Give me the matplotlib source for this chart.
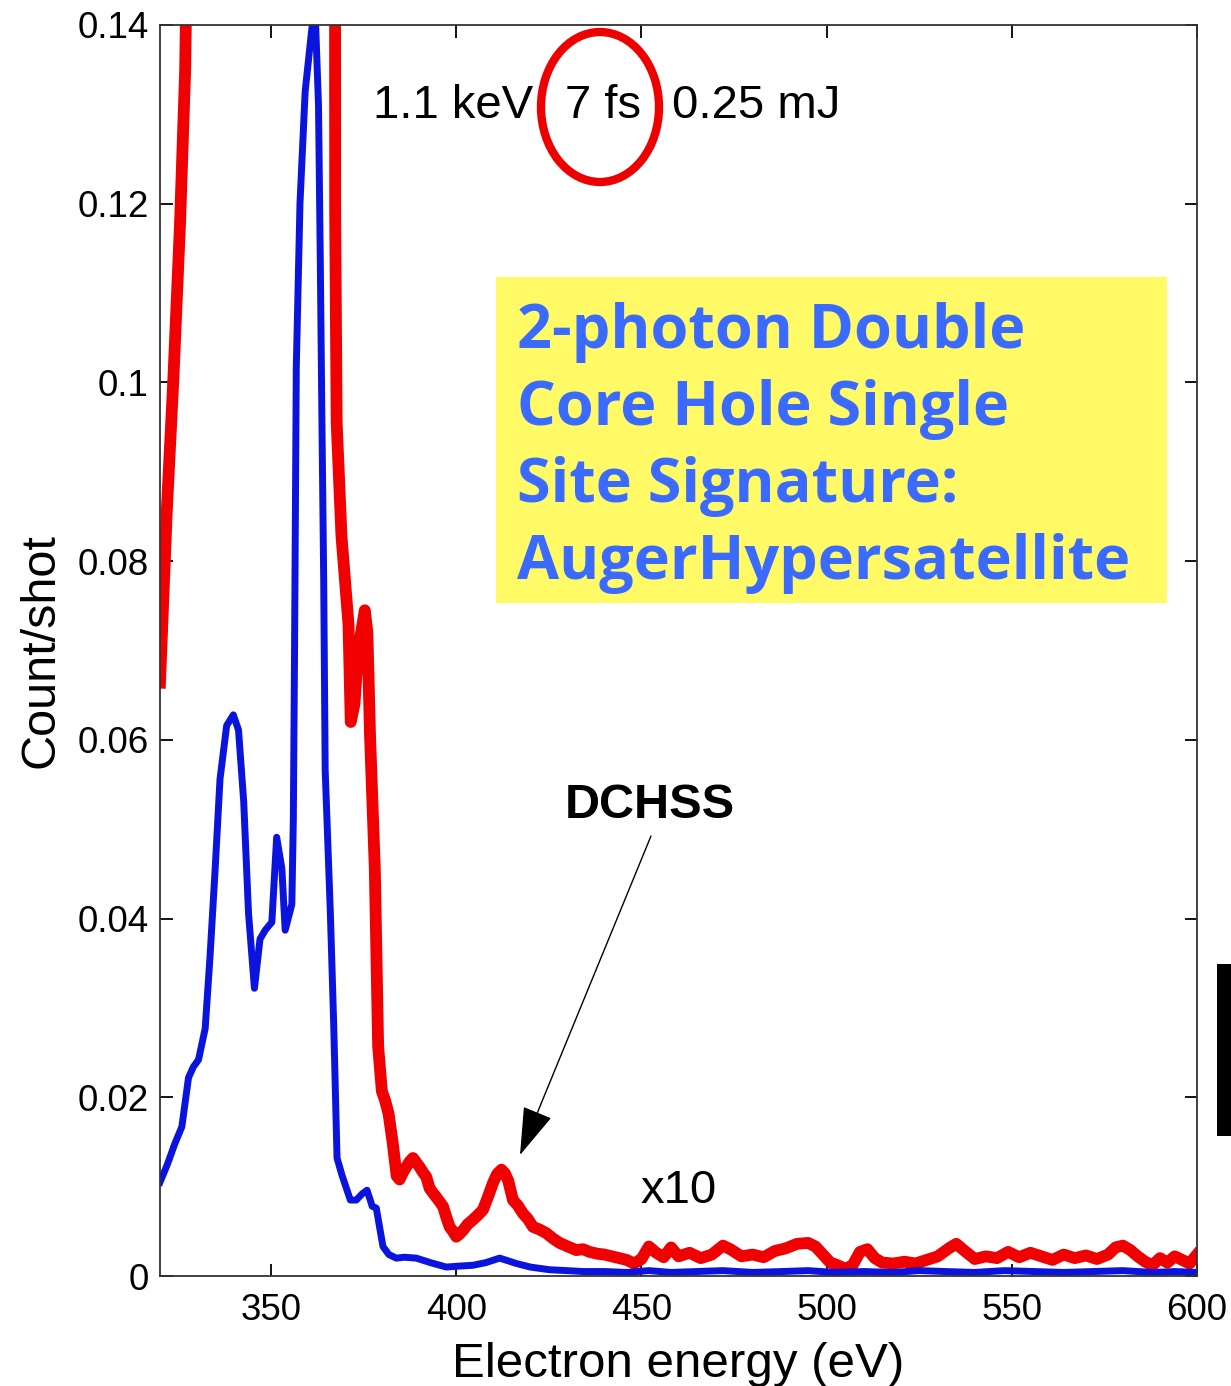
import matplotlib
matplotlib.use("Agg")
import matplotlib.pyplot as plt
from matplotlib.patches import Ellipse, Rectangle

plt.rcParams['font.family'] = ['Liberation Sans', 'DejaVu Sans']

# Auger spectrum (blue) and the same spectrum scaled x10 (red)
blue_energy = [320, 322, 324, 325.9, 327.7, 329, 330.4, 332.2, 333.5, 334.9, 336.2, 338,
               339.8, 341.2, 342.6, 343.9, 345.5, 347, 348.4, 350.2, 351.5, 352.9, 353.8,
               355.6, 356, 356.3, 356.8, 357.8, 359.2, 361, 361.9, 362.8, 363.3, 363.7,
               364.2, 364.6, 366, 366.9, 367.8, 369.2, 371.4, 373, 374.6, 375.9, 377.3,
               378.4, 380.2, 381.8, 383.8, 386, 389.2, 393, 397.3, 400.5, 404.5, 408,
               411.7, 414, 416.2, 420, 425.2, 430, 434.2, 440, 446, 452, 458, 465, 472,
               480, 488, 495, 502, 510, 518, 525, 532, 540, 548, 556, 564, 572, 580,
               588, 594, 600]
blue_count = [0.0105, 0.0125, 0.0148, 0.0167, 0.0222, 0.0234, 0.0242, 0.0277, 0.0357,
              0.0456, 0.0556, 0.0616, 0.0628, 0.0611, 0.0531, 0.0406, 0.0322, 0.0377,
              0.0387, 0.0396, 0.0491, 0.0456, 0.0387, 0.0416, 0.0511, 0.068, 0.1017,
              0.1201, 0.1326, 0.1396, 0.1415, 0.131, 0.1129, 0.0965, 0.0779, 0.0566,
              0.0406, 0.0282, 0.0132, 0.0112, 0.0085, 0.0085, 0.0092, 0.0096, 0.0078,
              0.0076, 0.0033, 0.0024, 0.002, 0.0021, 0.002, 0.0015, 0.001, 0.0011,
              0.0012, 0.0015, 0.002, 0.0017, 0.0014, 0.001, 0.0007, 0.0006, 0.0005,
              0.0005, 0.0004, 0.0006, 0.0004, 0.0005, 0.0006, 0.0004, 0.0005, 0.0006,
              0.0004, 0.0005, 0.0004, 0.0006, 0.0005, 0.0004, 0.0006, 0.0005, 0.0004,
              0.0005, 0.0006, 0.0004, 0.0005, 0.0004]

red_energy = [320, 321.8, 323.6, 325.4, 326.8, 329, 335, 345, 355, 362, 366.6, 367.3,
              367.7, 369, 370.9, 371.5, 372.5, 373.5, 375.3, 376, 376.7, 378, 378.9,
              379.9, 380.8, 381.7, 382.8, 383.9, 384.7, 385.6, 386.5, 387.4, 388.3,
              389.2, 390.1, 391, 391.9, 392.8, 393.7, 395, 396.4, 397.3, 398.2, 399.1,
              400, 400.9, 401.8, 403.1, 404.5, 405.8, 407.2, 408.5, 409.9, 411, 412.2,
              413.1, 414, 415.3, 416.6, 418, 419.3, 420.7, 422.5, 424.3, 426.1, 427.9,
              430.1, 432.4, 434.2, 436, 438, 440, 443, 446, 448, 450, 452, 454, 456,
              458, 460, 463, 466, 469, 472, 474, 477, 480, 483, 486, 489, 492, 495, 497,
              499, 501, 503, 505, 507, 509, 511, 513, 515, 518, 521, 524, 527, 530, 533,
              535, 537, 540, 543, 546, 549, 552, 555, 558, 561, 564, 567, 570, 573, 576,
              578, 580, 582, 584, 586, 588, 590, 592, 594, 596, 598, 600]
red_count = [0.0664, 0.0853, 0.1003, 0.1177, 0.135, 0.2, 0.5, 0.4, 0.7, 1.4, 0.6, 0.119,
             0.0955, 0.0828, 0.0729, 0.062, 0.064, 0.07, 0.0745, 0.072, 0.0606, 0.0456,
             0.0257, 0.0207, 0.0196, 0.0182, 0.0150, 0.0112, 0.0108, 0.0116, 0.0122,
             0.0128, 0.0132, 0.0127, 0.0122, 0.0116, 0.0111, 0.0098, 0.0093, 0.0086,
             0.0078, 0.0066, 0.0055, 0.0050, 0.0044, 0.0047, 0.0051, 0.0058, 0.0063,
             0.0068, 0.0074, 0.0088, 0.0104, 0.0114, 0.0119, 0.0115, 0.0107, 0.0085,
             0.0079, 0.007, 0.0064, 0.0055, 0.0052, 0.0048, 0.0042, 0.0037, 0.0033,
             0.0029, 0.0030, 0.0027, 0.0025, 0.0024, 0.0021, 0.0018, 0.0014, 0.0019,
             0.0033, 0.0026, 0.0021, 0.0032, 0.0022, 0.0026, 0.0020, 0.0024, 0.0034,
             0.0030, 0.0022, 0.0024, 0.0021, 0.0028, 0.0031, 0.0036, 0.0037, 0.0033,
             0.0024, 0.0015, 0.0012, 0.0008, 0.0012, 0.0027, 0.0030, 0.0020, 0.0015,
             0.0014, 0.0016, 0.0014, 0.0018, 0.0022, 0.0031, 0.0036, 0.0029, 0.0019,
             0.0022, 0.0020, 0.0027, 0.0021, 0.0026, 0.0022, 0.0018, 0.0024, 0.0020,
             0.0023, 0.0019, 0.0024, 0.0032, 0.0034, 0.0029, 0.0022, 0.0016, 0.0012,
             0.0020, 0.0015, 0.0022, 0.0018, 0.0014, 0.0024]

x_ticks = [350, 400, 450, 500, 550, 600]
y_ticks = [0, 0.02, 0.04, 0.06, 0.08, 0.1, 0.12, 0.14]
y_tick_labels = ['0', '0.02', '0.04', '0.06', '0.08', '0.1', '0.12', '0.14']

box_lines = ['2-photon Double', 'Core Hole Single', 'Site Signature:', 'AugerHypersatellite']

W, H = 1231, 1386
fig = plt.figure(figsize=(W / 100, H / 100), dpi=100)
ax = fig.add_axes([160 / W, 1 - 1276 / H, (1197 - 160) / W, (1276 - 25) / H])

ax.plot(red_energy, red_count, color='#f00000', lw=8.5, solid_joinstyle='round')
ax.plot(blue_energy, blue_count, color='#0a14dc', lw=5, solid_joinstyle='round')

ax.set_xlim(320, 600)
ax.set_ylim(0, 0.14)
ax.set_xticks(x_ticks)
ax.set_yticks(y_ticks)
ax.set_yticklabels(y_tick_labels)
ax.tick_params(direction='in', length=9, width=1.3, labelsize=26.5,
               top=True, right=True)
ax.tick_params(axis='x', pad=12)
ax.tick_params(axis='y', pad=8)
for s in ax.spines.values():
    s.set_linewidth(1.3)
    s.set_color('#333333')

ax.set_xlabel('Electron energy (eV)', fontsize=35.5, labelpad=10)
ax.set_ylabel('Count/shot', fontsize=35, labelpad=10)


def fp(x, y):
    # image-style pixel position -> figure pixels (origin bottom-left)
    return (x, H - y)


# beam parameters
fig.text(*fp(373, 118), '1.1 keV', fontsize=34, va='baseline', transform=None)
fig.text(*fp(565, 118), '7 fs', fontsize=34, va='baseline', transform=None)
fig.text(*fp(672, 118), '0.25 mJ', fontsize=34, va='baseline', transform=None)
fig.add_artist(Ellipse(fp(600, 107), 118, 150, fill=False, edgecolor='#ee0000',
                       lw=6, transform=None))

# highlighted note
fig.add_artist(Rectangle(fp(496, 603), 1167 - 496, 603 - 277, facecolor='#fffa66',
                         edgecolor='none', transform=None))
for i, line in enumerate(box_lines):
    fig.text(*fp(517, 348 + i * 77), line, fontsize=44, fontweight='bold',
             family='Open Sans', color='#3a6aff', va='baseline', transform=None)

# DCHSS label and arrow
fig.text(*fp(650, 805), 'DCHSS', fontsize=35, fontweight='bold', ha='center',
         va='center', transform=None)
ax.annotate('', xy=fp(520, 1155), xycoords='figure pixels',
            xytext=fp(651, 836), textcoords='figure pixels',
            arrowprops=dict(arrowstyle='-|>,head_length=1.1,head_width=0.35',
                            color='k', lw=1, mutation_scale=28,
                            shrinkA=0, shrinkB=0))
fig.text(*fp(640, 1203), 'x10', fontsize=34, va='baseline', transform=None)

fig.add_artist(Rectangle(fp(1217, 1136), 14, 1136 - 964, facecolor='black',
                         edgecolor='none', transform=None))

fig.savefig('out.png', dpi=100)
